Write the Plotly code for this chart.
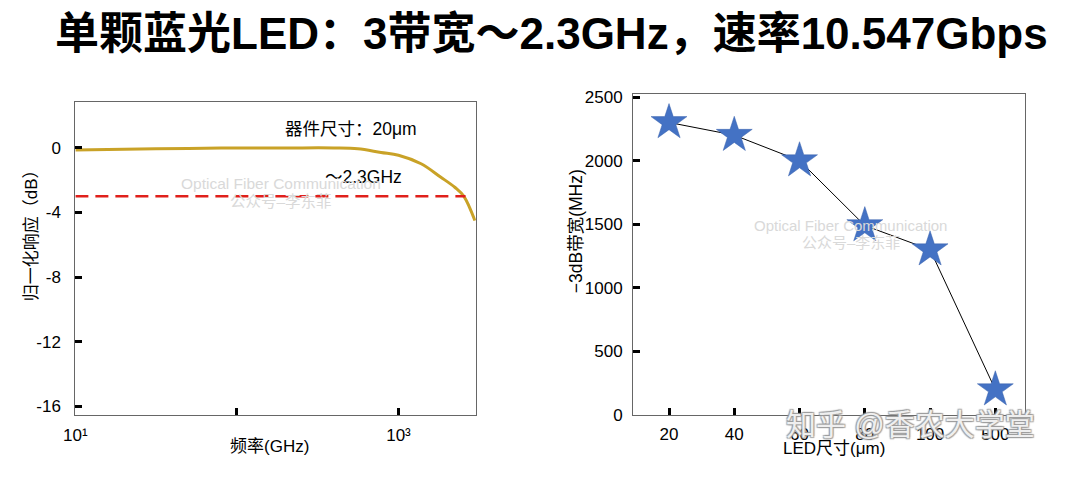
import plotly.graph_objects as go
from plotly.subplots import make_subplots

# left panel: normalised frequency response of the 20um device
freq_ghz = [10, 20, 50, 100, 200, 400, 560, 780, 1000, 1380, 1820, 2240, 2540, 2970]
response_db = [-0.12, -0.08, -0.03, 0.0, 0.0, 0.0, -0.05, -0.28, -0.45, -0.98, -1.8, -2.45, -3.0, -4.5]
cutoff_db = -3
cutoff_span = [10, 2600]

# right panel: -3dB bandwidth vs LED size
led_size = ["20", "40", "60", "80", "100", "500"]
bandwidth_mhz = [2300, 2200, 2000, 1490, 1300, 200]

FONT = "Liberation Sans, Noto Sans CJK SC, sans-serif"
GOLD = "#C9A227"
BLUE = "#4472C4"
WM = "#d9d9d9"
W, H = 1080, 477
OFF = 8  # page body margin shifts the figure by 8px


def px(x):
    return (x - OFF) / W


def py(y):
    return 1 - (y - OFF) / H


fig = make_subplots(rows=1, cols=2)

fig.add_trace(go.Scatter(
    x=freq_ghz, y=response_db, mode="lines",
    line=dict(color=GOLD, width=3, shape="spline"),
), row=1, col=1)
fig.add_trace(go.Scatter(
    x=cutoff_span, y=[cutoff_db, cutoff_db], mode="lines",
    line=dict(color="#E0201B", width=2.5, dash="13px,7px"),
), row=1, col=1)

fig.add_trace(go.Scatter(
    x=led_size, y=bandwidth_mhz, mode="lines+markers",
    line=dict(color="black", width=1),
    marker=dict(symbol="star", size=27, color=BLUE, line=dict(color="#3a62ad", width=0.5)),
), row=1, col=2)

axis_common = dict(
    showline=True, linecolor="#666", linewidth=1.2, mirror=True,
    ticks="inside", tickcolor="black", tickwidth=2.5, ticklen=7,
    showgrid=False, zeroline=False,
    tickfont=dict(family=FONT, size=17, color="black"),
)

fig.update_xaxes(type="log", range=[1, 3.479],
                 tickvals=[10, 100, 1000], ticktext=["10¹", "", "10³"], ticklabelstandoff=4,
                 domain=[px(64), px(469)], row=1, col=1, **axis_common)
fig.update_yaxes(range=[-16.55, 2.85], tickvals=[0, -4, -8, -12, -16],
                 ticktext=["0", "-4", "-8", "-12", "-16"], ticklabelstandoff=10,
                 domain=[py(423), py(99)], row=1, col=1, **axis_common)

fig.update_xaxes(type="category", range=[-0.55, 5.45], ticklabelstandoff=3,
                 domain=[px(628), px(1024)], row=1, col=2, **axis_common)
fig.update_yaxes(range=[0, 2522], tickvals=[0, 500, 1000, 1500, 2000, 2500], ticklabelstandoff=6,
                 domain=[py(423), py(91)], row=1, col=2, **axis_common)

annotations = [
    # title
    dict(x=px(545), y=py(28), text="<b>单颗蓝光LED：3带宽～2.3GHz，速率10.547Gbps</b>",
         font=dict(size=44, color="black")),
    # left panel text
    dict(x=px(343), y=py(127), text="器件尺寸：20μm", font=dict(size=17.5)),
    dict(x=px(355), y=py(177), text="～2.3GHz", font=dict(size=17.5)),
    dict(x=px(20), y=py(233), text="归一化响应（dB）", textangle=-90, font=dict(size=17)),
    dict(x=px(260), y=py(455), text="频率(GHz)", font=dict(size=17)),
    # right panel text
    dict(x=px(571), y=py(233), text="−3dB带宽(MHz)", textangle=-90, font=dict(size=17.5)),
    dict(x=px(831), y=py(458), text="LED尺寸(μm)", font=dict(size=17)),
    # watermarks
    dict(x=px(272), y=py(183), text="Optical Fiber Communication", font=dict(size=15.5, color=WM)),
    dict(x=px(272), y=py(202), text="公众号–李东菲", font=dict(size=15.5, color=WM)),
    dict(x=px(848), y=py(227), text="Optical Fiber Communication", font=dict(size=15, color=WM)),
    dict(x=px(848), y=py(244), text="公众号–李东菲", font=dict(size=15, color=WM)),
    dict(x=px(908), y=py(433), text="知乎 @香农大学堂",
         font=dict(size=30, color="rgba(255,255,255,0.85)",
                   shadow="1px 1px 1px #999, -1px -1px 1px #999, 1px -1px 1px #999, -1px 1px 1px #999")),
]
for a in annotations:
    a.setdefault("xref", "paper")
    a.setdefault("yref", "paper")
    a.setdefault("xanchor", "center")
    a.setdefault("yanchor", "middle")
    a.setdefault("showarrow", False)
    a["font"].setdefault("family", FONT)
    a["font"].setdefault("color", "black")
fig.update_layout(annotations=annotations)

fig.update_layout(
    width=W, height=H,
    margin=dict(l=0, r=0, t=0, b=0),
    paper_bgcolor="white", plot_bgcolor="white",
    showlegend=False,
    font=dict(family=FONT, color="black"),
)

fig.write_html("out.html")
